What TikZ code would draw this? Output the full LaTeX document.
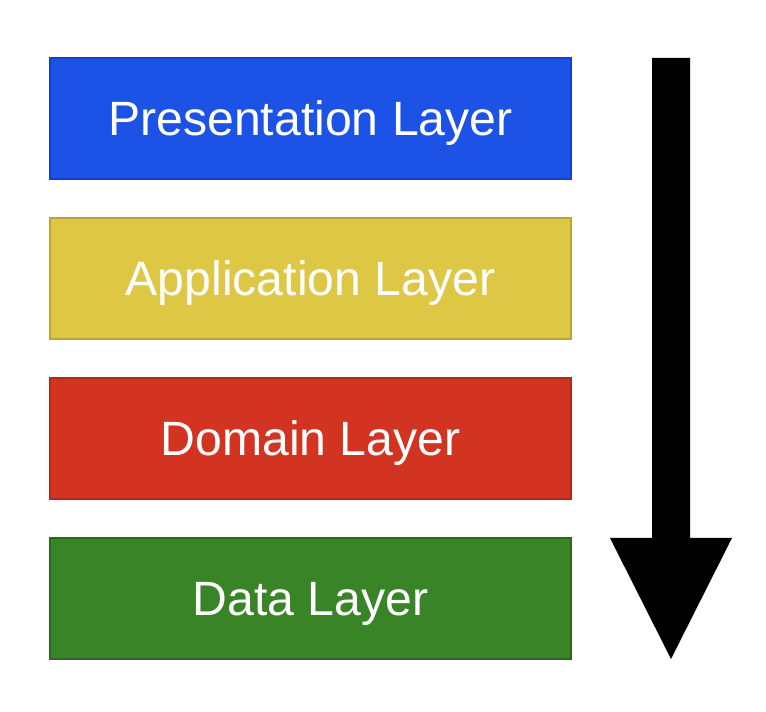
\documentclass[tikz,border=0pt]{standalone}
\usepackage{fontspec}
\setmainfont{Liberation Sans}
\usetikzlibrary{positioning}

\definecolor{presfill}{RGB}{29,82,230}
\definecolor{presdraw}{RGB}{22,62,200}
\definecolor{appfill}{RGB}{223,199,70}
\definecolor{appdraw}{RGB}{186,165,52}
\definecolor{domfill}{RGB}{210,52,33}
\definecolor{domdraw}{RGB}{178,40,26}
\definecolor{datafill}{RGB}{58,132,40}
\definecolor{datadraw}{RGB}{42,104,30}

\tikzset{
  layer/.style={
    draw,
    line width=0.8pt,
    outer sep=0pt,
    text=white,
    text depth=0pt,
    font=\fontsize{27.4}{32}\selectfont,
    minimum width=10.42cm,
    minimum height=2.42cm
  }
}

\begin{document}
\begin{tikzpicture}

\useasboundingbox (0,0) rectangle (15.32,-14.24);

%%%%%%%%%%%%%%%%%%%%%%%%%%%%%%%%%%%%%%%%%%%%%%%%%%%%%%
% LAYERS
%%%%%%%%%%%%%%%%%%%%%%%%%%%%%%%%%%%%%%%%%%%%%%%%%%%%%%

\node[
layer,
fill=presfill,
draw=presdraw
]
(presentation)
at (6.21,-2.37)
{Presentation Layer};

\node[
layer,
fill=appfill,
draw=appdraw,
below=0.78cm of presentation
]
(application)
{Application Layer};

\node[
layer,
fill=domfill,
draw=domdraw,
below=0.78cm of application
]
(domain)
{Domain Layer};

\node[
layer,
fill=datafill,
draw=datadraw,
below=0.78cm of domain
]
(data)
{Data Layer};

%%%%%%%%%%%%%%%%%%%%%%%%%%%%%%%%%%%%%%%%%%%%%%%%%%%%%%
% FLOW ARROW
%%%%%%%%%%%%%%%%%%%%%%%%%%%%%%%%%%%%%%%%%%%%%%%%%%%%%%

\coordinate (flowtop) at (13.42,-1.16);
\coordinate (flowtip) at (13.42,-13.18);

\fill[black]
([xshift=-0.38cm]flowtop) --
([xshift=0.38cm]flowtop) --
([xshift=0.38cm,yshift=2.42cm]flowtip) --
([xshift=1.22cm,yshift=2.42cm]flowtip) --
(flowtip) --
([xshift=-1.22cm,yshift=2.42cm]flowtip) --
([xshift=-0.38cm,yshift=2.42cm]flowtip) --
cycle;

\end{tikzpicture}
\end{document}
